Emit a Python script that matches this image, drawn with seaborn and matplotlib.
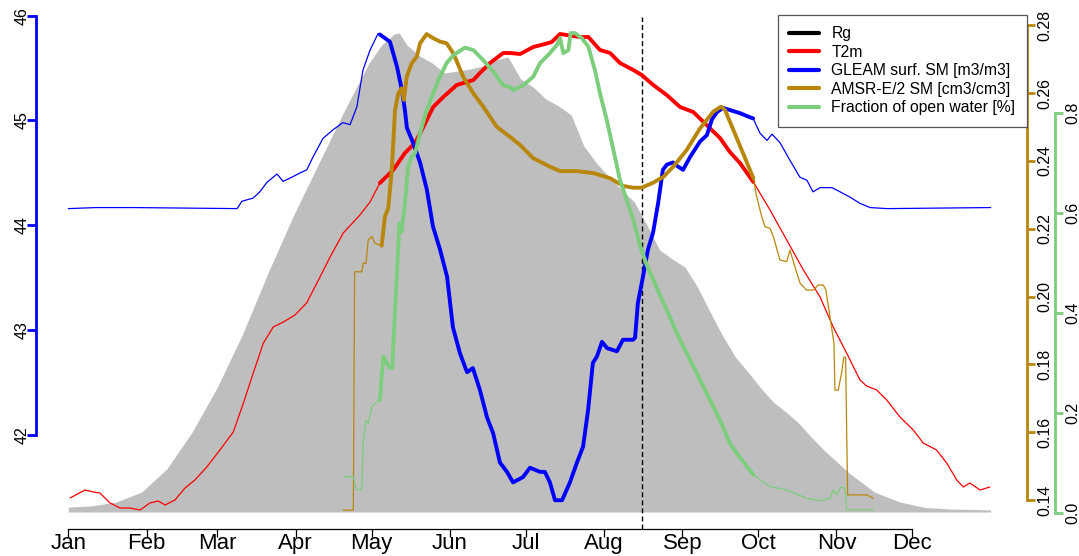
import matplotlib
matplotlib.use("Agg")
import matplotlib.pyplot as plt
import seaborn as sns
import numpy as np
from matplotlib.lines import Line2D

# ---------------- data ----------------
month_labels = ["Jan", "Feb", "Mar", "Apr", "May", "Jun",
                "Jul", "Aug", "Sep", "Oct", "Nov", "Dec"]
month_days = [1, 32, 60, 91, 121, 152, 182, 213, 244, 274, 305, 335]
dash_day = 228
thick_window = (124.3, 272.1)

# Rg (grey area, arbitrary W/m2 scale, no axis)
rg_day = [1, 10, 20, 30, 40, 50, 60, 70, 80, 90,
          100, 110, 120, 125, 130, 132, 135, 140, 145, 150,
          155, 160, 165, 170, 175, 180, 185, 190, 195, 200,
          205, 210, 215, 220, 225, 230, 235, 240, 245, 250,
          255, 260, 265, 270, 275, 280, 285, 290, 295, 300,
          310, 320, 330, 340, 350, 360, 366]
rg_val = [3.3, 4.0, 6.7, 13.3, 28.7, 53.3, 83.3, 118.7, 159.3, 197.3,
          232.0, 266.7, 299.3, 311.3, 318.7, 319.3, 311.3, 304.0, 299.3, 292.7,
          294.0, 295.3, 297.3, 301.3, 303.3, 288.7, 283.3, 275.3, 270.7, 264.7,
          244.0, 232.7, 223.3, 214.7, 206.7, 191.3, 174.7, 168.7, 163.3, 150.0,
          133.3, 117.3, 103.3, 93.3, 82.7, 73.3, 66.7, 59.3, 50.0, 41.3,
          26.0, 13.3, 6.7, 3.0, 2.0, 1.7, 1.3]

# T2m (deg C, no axis)
t2m_day = [1.7, 7.6, 10.9, 13.5, 17.5, 21.5, 25.4, 29.4, 33.3, 36.6,
           39.3, 43.2, 47.2, 51.1, 55.8, 61.0, 66.3, 70.3, 74.2, 78.2,
           82.1, 86.1, 90.7, 95.3, 100.6, 104.6, 109.8, 116.4, 120.4, 124.3,
           129.6, 134.2, 138.2, 141.5, 145.4, 149.4, 154.7, 161.3, 163.9, 167.9,
           173.1, 175.8, 179.8, 185.0, 189.6, 192.3, 195.6, 198.2, 203.5, 206.8,
           211.4, 215.4, 219.3, 224.6, 227.9, 232.5, 237.8, 243.1, 248.3, 253.6,
           258.9, 262.8, 266.8, 272.1, 278.7, 285.3, 291.9, 298.5, 303.7, 309.0,
           314.3, 316.9, 320.9, 324.9, 330.1, 335.4, 339.3, 344.6, 348.6, 352.6,
           355.2, 357.8, 361.8, 365.7]
t2m_val = [-23.6, -22.8, -23.0, -23.1, -24.1, -24.6, -24.6, -24.8, -24.1, -23.9,
           -24.3, -23.8, -22.6, -21.8, -20.5, -18.8, -17.0, -14.1, -11.1, -8.1,
           -6.5, -6.0, -5.3, -4.1, -1.5, 0.5, 2.9, 4.7, 6.0, 7.9,
           9.2, 10.9, 11.9, 13.5, 15.5, 16.5, 17.7, 18.2, 18.9, 19.9,
           20.9, 20.9, 20.8, 21.5, 21.8, 22.0, 22.8, 22.7, 22.5, 22.5,
           21.2, 20.9, 19.9, 19.2, 18.7, 17.7, 16.7, 15.5, 15.0, 13.7,
           12.4, 11.0, 9.9, 8.0, 5.2, 2.2, -0.8, -3.5, -6.5, -9.1,
           -11.8, -12.4, -12.8, -13.8, -15.5, -16.8, -18.1, -18.8, -20.1, -21.8,
           -22.5, -22.1, -22.8, -22.5]

# GLEAM (left, blue axis)
gleam_day = [1, 12, 27,
             67.8, 69.7, 74.1, 76.8, 79.6, 83.6, 86.0, 88.7, 92.7, 95.4,
             97.8, 101.8, 105.7, 109.7, 112.5, 115.2, 117.6, 120.4, 123.6, 124.3,
             128.3, 131.1, 133.0, 134.2, 135.0, 137.4, 140.2, 142.9, 145.3, 148.1,
             150.9, 153.2, 156.0, 158.8, 161.1, 163.9, 166.7, 169.1, 171.8, 174.6,
             177.0, 180.9, 183.7, 187.7, 189.6, 191.6, 193.6, 196.4, 199.5, 202.3,
             204.7, 206.7, 208.6, 210.2, 212.2, 214.2, 218.1, 220.5, 224.5, 225.3,
             226.4, 228.4, 230.4, 232.4, 234.4, 236.3, 237.9, 240.3, 242.3, 244.3,
             247.0, 251.0, 253.7, 255.7, 257.7, 260.1, 262.8, 266.8, 270.8, 272.0,
             274.7, 277.5, 279.5, 282.6, 286.6, 290.5, 293.3, 295.7, 298.5, 303.2,
             306.4, 310.3, 314.3, 318.3, 325.0, 366]
gleam_val = [44.16, 44.17, 44.17,
             44.16, 44.23, 44.26, 44.32, 44.41, 44.49, 44.42, 44.45, 44.50, 44.53,
             44.65, 44.83, 44.91, 44.98, 44.96, 45.13, 45.48, 45.67, 45.83, 45.82,
             45.75, 45.51, 45.29, 45.10, 44.93, 44.79, 44.60, 44.34, 43.99, 43.77,
             43.51, 43.03, 42.78, 42.60, 42.64, 42.43, 42.17, 42.02, 41.74, 41.65,
             41.55, 41.60, 41.69, 41.65, 41.65, 41.55, 41.38, 41.38, 41.55, 41.74,
             41.89, 42.24, 42.69, 42.75, 42.89, 42.83, 42.80, 42.91, 42.91, 42.93,
             43.26, 43.51, 43.77, 43.93, 44.21, 44.53, 44.58, 44.60, 44.56, 44.53,
             44.65, 44.80, 44.86, 45.01, 45.08, 45.12, 45.10, 45.07, 45.03, 45.02,
             44.88, 44.81, 44.87, 44.79, 44.62, 44.46, 44.43, 44.32, 44.36, 44.36,
             44.32, 44.27, 44.21, 44.17, 44.16, 44.17]

# AMSR-E/2 SM (brown right axis)
amsr_day = [109.8, 113.8, 114.3, 117.1, 117.7, 118.8, 119.7, 121.1, 122.4, 125.0,
            126.3, 127.6, 129.0, 130.3, 131.6, 132.9, 133.8, 134.9, 136.9, 138.9,
            140.2, 142.8, 145.4, 148.1, 150.7, 153.4, 157.3, 161.3, 165.2, 170.5,
            175.8, 179.8, 185.0, 191.6, 195.6, 202.2, 208.8, 215.4, 220.6, 224.6,
            227.9, 232.5, 236.5, 240.4, 245.7, 251.0, 256.2, 259.3, 260.9, 264.2,
            267.5, 272.1, 273.4, 275.4, 276.7, 278.7, 280.0, 282.6, 285.3, 286.6,
            287.7, 290.6, 293.2, 295.8, 297.8, 299.8, 300.8, 302.4, 304.0, 304.4,
            305.7, 307.0, 307.9, 308.6, 309.4, 316.9, 319.6]
amsr_val = [0.1370, 0.1370, 0.2073, 0.2073, 0.2098, 0.2098, 0.2167, 0.2177, 0.2157, 0.2150,
            0.2236, 0.2260, 0.2373, 0.2550, 0.2599, 0.2614, 0.2580, 0.2648, 0.2688, 0.2707,
            0.2747, 0.2774, 0.2762, 0.2752, 0.2747, 0.2717, 0.2648, 0.2599, 0.2560, 0.2501,
            0.2471, 0.2447, 0.2408, 0.2383, 0.2370, 0.2370, 0.2364, 0.2349, 0.2326, 0.2321,
            0.2321, 0.2336, 0.2353, 0.2383, 0.2432, 0.2496, 0.2545, 0.2560, 0.2550, 0.2491,
            0.2432, 0.2349, 0.2295, 0.2236, 0.2206, 0.2201, 0.2177, 0.2108, 0.2103, 0.2137,
            0.2108, 0.2039, 0.2019, 0.2019, 0.2034, 0.2034, 0.2019, 0.1941, 0.1862, 0.1724,
            0.1724, 0.1774, 0.1821, 0.1821, 0.1415, 0.1415, 0.1405]

# Fraction of open water (green right axis)
frac_day = [109.8, 113.8, 115.1, 117.1, 117.7, 118.8, 119.7, 121.1, 123.0, 124.3,
            125.0, 125.7, 127.0, 128.3, 129.2, 130.3, 131.0, 132.0, 132.9, 134.2,
            135.5, 136.9, 138.2, 140.2, 142.8, 145.4, 148.1, 150.7, 153.4, 158.0,
            161.3, 165.2, 169.2, 173.1, 175.8, 177.1, 181.1, 185.0, 187.7, 191.6,
            194.3, 195.6, 196.9, 198.9, 199.8, 201.5, 204.2, 206.8, 209.4, 211.4,
            214.1, 216.7, 219.3, 224.6, 227.2, 229.9, 232.5, 237.8, 243.1, 248.3,
            253.6, 258.9, 262.8, 265.5, 272.1, 278.7, 285.3, 293.2, 298.5, 302.4,
            303.7, 305.1, 306.7, 308.4, 309.0, 319.6]
frac_val = [0.073, 0.073, 0.047, 0.047, 0.140, 0.186, 0.180, 0.213, 0.223, 0.226,
            0.273, 0.313, 0.300, 0.290, 0.290, 0.406, 0.473, 0.579, 0.562, 0.619,
            0.692, 0.712, 0.719, 0.759, 0.805, 0.839, 0.872, 0.899, 0.915, 0.930,
            0.925, 0.905, 0.882, 0.855, 0.851, 0.845, 0.855, 0.872, 0.899, 0.919,
            0.935, 0.949, 0.919, 0.925, 0.959, 0.959, 0.949, 0.932, 0.885, 0.839,
            0.785, 0.726, 0.666, 0.586, 0.536, 0.496, 0.466, 0.406, 0.346, 0.294,
            0.240, 0.186, 0.140, 0.120, 0.077, 0.053, 0.047, 0.030, 0.025, 0.030,
            0.047, 0.037, 0.052, 0.050, 0.007, 0.007]

gleam_ticks = [42, 43, 44, 45, 46]
amsr_ticks = [0.14, 0.16, 0.18, 0.20, 0.22, 0.24, 0.26, 0.28]
frac_ticks = [0.0, 0.2, 0.4, 0.6, 0.8]

legend_labels = ["Rg", "T2m", "GLEAM surf. SM [m3/m3]",
                 "AMSR-E/2 SM [cm3/cm3]", "Fraction of open water [%]"]

# ---------------- style ----------------
C_RG = "#BEBEBE"
C_T = "#FF0000"
C_G = "#0000FF"
C_A = "#B8860B"
C_F = "#7CCD7C"

sns.set_theme(style="ticks")
plt.rcParams["font.family"] = ["Liberation Sans", "DejaVu Sans"]
plt.rcParams.update({"text.color": "black", "axes.edgecolor": "black",
                     "xtick.color": "black", "ytick.color": "black",
                     "axes.labelcolor": "black"})

W, H = 1079, 556
fig = plt.figure(figsize=(W / 100, H / 100), dpi=100)
fig.patch.set_facecolor("white")
ax0 = fig.add_axes([35.5 / W, 1 - 529 / H, (1026.7 - 35.5) / W, (529 - 8) / H])
ax_t = ax0.twinx()
ax_g = ax0.twinx()
ax_a = ax0.twinx()
ax_f = ax0.twinx()

for a in (ax_t, ax_g, ax_a, ax_f):
    for s in a.spines.values():
        s.set_visible(False)
    a.patch.set_visible(False)
for k in ("left", "right", "top"):
    ax0.spines[k].set_visible(False)


def draw(ax, days, vals, color, lw_thin=0.9, lw_thick=2.8):
    d = np.asarray(days, dtype=float)
    v = np.asarray(vals, dtype=float)
    sns.lineplot(x=d, y=v, ax=ax, color=color, linewidth=lw_thin,
                 estimator=None, sort=False, legend=False)
    m = (d >= thick_window[0]) & (d <= thick_window[1])
    sns.lineplot(x=d[m], y=v[m], ax=ax, color=color, linewidth=lw_thick,
                 estimator=None, sort=False, legend=False,
                 solid_capstyle="round", solid_joinstyle="round")


# Rg area
ax0.fill_between(rg_day, 0, rg_val, color=C_RG, linewidth=0)
ax0.axvline(dash_day, ymin=0, ymax=(529 - 16.7) / 521, color="black",
            linewidth=1, linestyle=(0, (3.6, 2.2)))

draw(ax_t, t2m_day, t2m_val, C_T)
draw(ax_g, gleam_day, gleam_val, C_G)
draw(ax_a, amsr_day, amsr_val, C_A)
draw(ax_f, frac_day, frac_val, C_F)

# limits
xlim = (-11.98, 380.27)
ax0.set_xlim(*xlim)
ax0.set_ylim(-11.33, 336.0)
ax_t.set_ylim(-26.7, 25.4)
ax_g.set_ylim(41.1058, 46.0724)
ax_a.set_ylim(0.131439, 0.285102)
ax_f.set_ylim(-0.03135, 1.00909)

# x axis
ax0.set_yticks([])
ax0.spines["bottom"].set_bounds(month_days[0], month_days[-1])
ax0.spines["bottom"].set_linewidth(0.9)
ax0.set_xticks(month_days)
ax0.set_xticklabels(month_labels)
ax0.tick_params(axis="x", direction="out", length=5.8, width=0.9,
                labelsize=16, pad=-2.7, colors="black")
ax0.set_xlabel("")
ax_t.set_yticks([])
for a in (ax_t, ax_g, ax_a, ax_f):
    a.set_xlabel("")
    a.set_ylabel("")

# left GLEAM axis
ax_g.yaxis.tick_left()
ax_g.spines["left"].set_visible(True)
ax_g.spines["left"].set_color(C_G)
ax_g.spines["left"].set_linewidth(2)
ax_g.spines["left"].set_bounds(gleam_ticks[0], gleam_ticks[-1])
ax_g.set_yticks(gleam_ticks)
ax_g.set_yticklabels([str(t) for t in gleam_ticks])
ax_g.tick_params(axis="y", which="both", left=True, right=False,
                 labelleft=True, labelright=False, direction="out",
                 length=6.5, width=2, color=C_G, labelcolor="black",
                 labelsize=11.5, pad=-2.0, labelrotation=90)
plt.setp(ax_g.get_yticklabels(), va="center")

# right AMSR axis
ax_a.spines["right"].set_visible(True)
ax_a.spines["right"].set_color(C_A)
ax_a.spines["right"].set_linewidth(2)
ax_a.spines["right"].set_bounds(amsr_ticks[0], amsr_ticks[-1])
ax_a.set_yticks(amsr_ticks)
ax_a.set_yticklabels([f"{t:.2f}" for t in amsr_ticks])
ax_a.tick_params(axis="y", direction="out", length=6.0, width=2, color=C_A,
                 labelcolor="black", labelsize=11.5, pad=2.0, labelrotation=90)
plt.setp(ax_a.get_yticklabels(), va="center")

# right fraction axis (offset)
ax_f.spines["right"].set_visible(True)
ax_f.spines["right"].set_position(("outward", 28.3 * 0.72))
ax_f.spines["right"].set_color(C_F)
ax_f.spines["right"].set_linewidth(2)
ax_f.spines["right"].set_bounds(frac_ticks[0], frac_ticks[-1])
ax_f.set_yticks(frac_ticks)
ax_f.set_yticklabels([f"{t:.1f}" for t in frac_ticks])
ax_f.tick_params(axis="y", direction="out", length=6.0, width=2, color=C_F,
                 labelcolor="black", labelsize=11.5, pad=1.5, labelrotation=90)
plt.setp(ax_f.get_yticklabels(), va="center")

# legend
handles = [Line2D([], [], color=c, linewidth=3)
           for c in ("black", C_T, C_G, C_A, C_F)]
leg = ax_f.legend(handles, legend_labels, loc="upper right",
                  bbox_to_anchor=(1026.7 / W, 1 - 14.7 / H),
                  bbox_transform=fig.transFigure, borderaxespad=0,
                  fontsize=11.3, frameon=True, fancybox=False, framealpha=1,
                  edgecolor="#555555", handlelength=1.9, handletextpad=0.8,
                  labelspacing=0.23, borderpad=0.72)
leg.get_frame().set_linewidth(0.9)

fig.savefig("out.png", dpi=100, facecolor="white")
